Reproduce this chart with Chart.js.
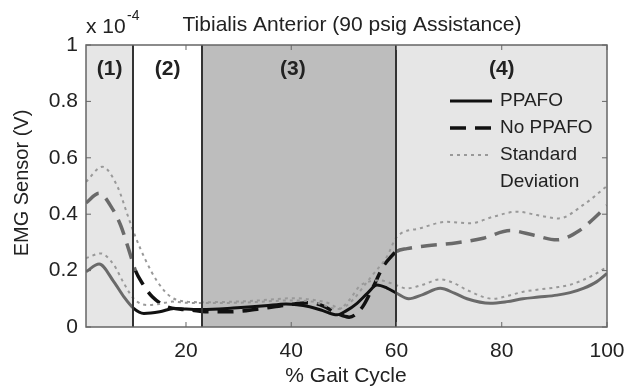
<!DOCTYPE html>
<html>
<head>
<meta charset="utf-8">
<script src="https://cdn.jsdelivr.net/npm/chart.js@4/dist/chart.umd.min.js"></script>
<style>
  html, body { margin: 0; padding: 0; background: #fff; }
  #wrap { width: 626px; height: 390px; }
</style>
</head>
<body>
<div id="wrap"><canvas id="c" width="626" height="390"></canvas></div>
<script>
// values (EMG in units of 1e-4 V)
const ppafoX = [1, 3.5, 6.3, 8.2, 10, 12, 15, 17.7, 20, 23, 29, 35, 39, 43.5, 46, 48.7, 50.5, 52.5, 54.5, 56.3, 58.2, 60, 62.3, 65, 68.3, 71, 73.4, 77.8, 81, 84, 87, 90.5, 93, 95.5, 98, 100];
const ppafoY = [0.196, 0.223, 0.16, 0.107, 0.067, 0.048, 0.054, 0.066, 0.064, 0.062, 0.067, 0.075, 0.082, 0.072, 0.058, 0.043, 0.058, 0.084, 0.12, 0.149, 0.138, 0.12, 0.10, 0.115, 0.137, 0.12, 0.10, 0.084, 0.09, 0.10, 0.106, 0.113, 0.122, 0.137, 0.16, 0.19];

const noPpafoX = [1, 3.5, 6, 7.6, 9.2, 10.4, 11.7, 13.6, 16.4, 19, 21, 23.7, 28.5, 33.5, 39.2, 43.3, 46, 48.5, 51, 53.5, 55.5, 57.5, 59, 60, 62, 65.8, 71.5, 76.5, 81.6, 86, 90.5, 94.9, 97.5, 100];
const noPpafoY = [0.44, 0.474, 0.42, 0.36, 0.27, 0.2, 0.155, 0.107, 0.072, 0.063, 0.06, 0.054, 0.054, 0.063, 0.078, 0.086, 0.075, 0.05, 0.035, 0.07, 0.14, 0.215, 0.25, 0.268, 0.278, 0.288, 0.299, 0.315, 0.342, 0.326, 0.309, 0.344, 0.385, 0.43];

const sdUpperX = [1, 4.1, 7, 8.9, 10.4, 12.3, 14.6, 17.1, 20.2, 23, 32, 40.5, 44.3, 47, 49.3, 51.9, 54, 55.7, 58.2, 60, 64.5, 69.6, 74, 78.4, 82.9, 86.7, 90.8, 95.5, 100];
const sdUpperY = [0.515, 0.568, 0.497, 0.397, 0.32, 0.238, 0.16, 0.107, 0.09, 0.088, 0.092, 0.102, 0.096, 0.085, 0.066, 0.10, 0.15, 0.19, 0.25, 0.318, 0.35, 0.373, 0.368, 0.391, 0.409, 0.397, 0.385, 0.433, 0.50];

const sdLowerX = [1, 3.8, 6.3, 8.2, 10, 12.5, 15, 17.5, 20, 23, 30, 40, 44, 49, 51, 53, 55, 57, 59, 62, 65, 68.3, 71, 73.4, 78.4, 81, 84.1, 87, 90.5, 93, 95.5, 98, 100];
const sdLowerY = [0.244, 0.261, 0.22, 0.155, 0.102, 0.078, 0.082, 0.09, 0.086, 0.085, 0.086, 0.094, 0.09, 0.064, 0.095, 0.145, 0.162, 0.165, 0.155, 0.137, 0.15, 0.169, 0.155, 0.131, 0.10, 0.11, 0.125, 0.133, 0.141, 0.15, 0.167, 0.19, 0.214];

// gait phases
const phaseBounds = [1, 10, 23, 60, 100];
const phaseLabels = ['(1)', '(2)', '(3)', '(4)'];
const phaseLabelX = [5.5, 16.5, 40.3, 80];

const xTicks = [20, 40, 60, 80, 100];
const yTicks = [0, 0.2, 0.4, 0.6, 0.8, 1];

// legend rows, top to bottom
const legendNames = ['PPAFO', 'No PPAFO', 'Standard\nDeviation'];

const FONT = '"Liberation Sans", Arial, sans-serif';
const PHASE_FILL = ['#e6e6e6', '#ffffff', '#bdbdbd', '#e6e6e6'];

const pts = (xs, ys) => xs.map((x, i) => ({ x, y: ys[i] }));

// curves look lighter over the light gray phases
const shade = ctx => {
  const m = (ctx.p0.parsed.x + ctx.p1.parsed.x) / 2;
  return (m < 10 || m > 60) ? '#6a6a6a' : '#111111';
};

const phasePlugin = {
  id: 'phases',
  beforeDatasetsDraw(chart) {
    const { ctx, chartArea: a, scales: { x } } = chart;
    ctx.save();
    for (let i = 0; i < phaseLabels.length; i++) {
      const x0 = x.getPixelForValue(phaseBounds[i]);
      const x1 = x.getPixelForValue(phaseBounds[i + 1]);
      ctx.fillStyle = PHASE_FILL[i];
      ctx.fillRect(x0, a.top, x1 - x0, a.bottom - a.top);
    }
    ctx.restore();
  },
  afterDatasetsDraw(chart) {
    const { ctx, chartArea: a, scales: { x, y } } = chart;
    ctx.save();
    // phase dividers
    ctx.strokeStyle = '#333';
    ctx.lineWidth = 2;
    for (let i = 1; i < phaseBounds.length - 1; i++) {
      const px = Math.round(x.getPixelForValue(phaseBounds[i]));
      ctx.beginPath();
      ctx.moveTo(px, a.top);
      ctx.lineTo(px, a.bottom);
      ctx.stroke();
    }
    // box + inward ticks
    ctx.strokeStyle = '#666';
    ctx.lineWidth = 1.5;
    ctx.strokeRect(a.left, a.top, a.right - a.left, a.bottom - a.top);
    ctx.lineWidth = 1;
    ctx.beginPath();
    xTicks.forEach(v => {
      const px = x.getPixelForValue(v);
      ctx.moveTo(px, a.bottom); ctx.lineTo(px, a.bottom - 5);
      ctx.moveTo(px, a.top); ctx.lineTo(px, a.top + 5);
    });
    yTicks.forEach(v => {
      const py = y.getPixelForValue(v);
      ctx.moveTo(a.left, py); ctx.lineTo(a.left + 5, py);
      ctx.moveTo(a.right, py); ctx.lineTo(a.right - 5, py);
    });
    ctx.stroke();
    ctx.restore();
  },
  afterDraw(chart) {
    const { ctx, scales: { x } } = chart;
    ctx.save();
    ctx.fillStyle = '#222';
    ctx.textBaseline = 'middle';

    // phase numbers
    ctx.font = 'bold 21px ' + FONT;
    ctx.textAlign = 'center';
    phaseLabels.forEach((t, i) => ctx.fillText(t, x.getPixelForValue(phaseLabelX[i]), 69));

    // title, exponent, axis titles
    ctx.font = '21px ' + FONT;
    ctx.fillText('Tibialis Anterior (90 psig Assistance)', 352, 25);
    ctx.fillText('% Gait Cycle', 346, 376);
    ctx.textAlign = 'left';
    ctx.fillText('x 10', 86, 27);
    ctx.font = '14px ' + FONT;
    ctx.fillText('-4', 127, 16);
    ctx.font = '20px ' + FONT;
    ctx.save();
    ctx.translate(22, 183);
    ctx.rotate(-Math.PI / 2);
    ctx.textAlign = 'center';
    ctx.fillText('EMG Sensor (V)', 0, 0);
    ctx.restore();

    // legend
    ctx.font = '19px ' + FONT;
    ctx.textAlign = 'left';
    const rows = [101, 128, 155];
    legendNames.forEach((name, i) => {
      const d = chart.data.datasets.find(s => s.legendName === name);
      const ly = rows[i];
      ctx.save();
      ctx.strokeStyle = d.legendColor;
      ctx.lineWidth = d.borderWidth;
      ctx.setLineDash(d.borderDash || []);
      ctx.beginPath();
      ctx.moveTo(450, ly);
      ctx.lineTo(492, ly);
      ctx.stroke();
      ctx.restore();
      name.split('\n').forEach((t, j) => ctx.fillText(t, 500, ly + j * 27));
    });
    ctx.restore();
  }
};

new Chart(document.getElementById('c'), {
  type: 'line',
  data: {
    datasets: [
      {
        label: 'Standard Deviation', legendName: 'Standard\nDeviation', legendColor: '#999',
        data: pts(sdUpperX, sdUpperY),
        borderColor: '#999', borderWidth: 2, borderDash: [3, 4],
        pointRadius: 0, cubicInterpolationMode: 'monotone'
      },
      {
        label: 'Standard Deviation (lower)',
        data: pts(sdLowerX, sdLowerY),
        borderColor: '#999', borderWidth: 2, borderDash: [3, 4],
        pointRadius: 0, cubicInterpolationMode: 'monotone'
      },
      {
        label: 'No PPAFO', legendName: 'No PPAFO', legendColor: '#111',
        data: pts(noPpafoX, noPpafoY),
        borderWidth: 3.5, borderDash: [16, 9],
        segment: { borderColor: shade },
        pointRadius: 0, cubicInterpolationMode: 'monotone'
      },
      {
        label: 'PPAFO', legendName: 'PPAFO', legendColor: '#111',
        data: pts(ppafoX, ppafoY),
        borderWidth: 3,
        segment: { borderColor: shade },
        pointRadius: 0, cubicInterpolationMode: 'monotone'
      }
    ]
  },
  options: {
    responsive: false,
    animation: false,
    devicePixelRatio: 1,
    layout: { padding: { top: 45, right: 19, left: 0, bottom: 0 } },
    plugins: { legend: { display: false }, tooltip: { enabled: false } },
    scales: {
      x: {
        type: 'linear', min: 1, max: 100,
        grid: { display: false, drawTicks: false },
        border: { display: false },
        afterBuildTicks: s => { s.ticks = xTicks.map(v => ({ value: v })); },
        afterFit: s => { s.height = 63; s.paddingLeft = 0; s.paddingRight = 0; },
        ticks: { color: '#222', padding: 12, font: { family: FONT, size: 21 }, maxRotation: 0 }
      },
      y: {
        min: 0, max: 1,
        grid: { display: false, drawTicks: false },
        border: { display: false },
        afterBuildTicks: s => { s.ticks = yTicks.map(v => ({ value: v })); },
        afterFit: s => { s.width = 86; s.paddingTop = 0; s.paddingBottom = 0; },
        ticks: {
          color: '#222', padding: 8, font: { family: FONT, size: 21 },
          callback: v => String(Math.round(v * 10) / 10)
        }
      }
    }
  },
  plugins: [phasePlugin]
});
</script>
</body>
</html>
